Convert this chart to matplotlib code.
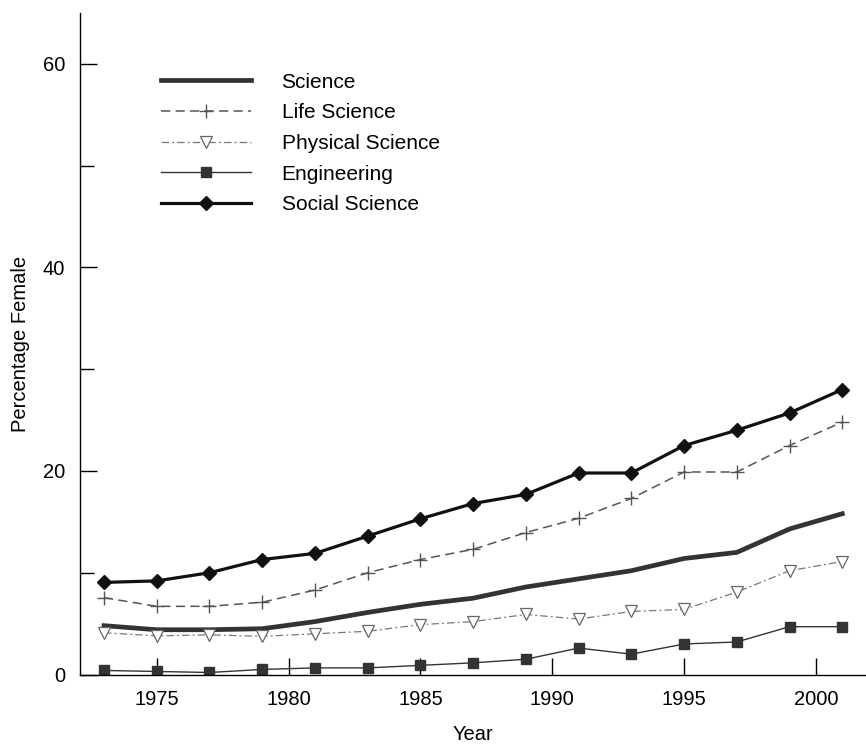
#!/usr/bin/env python3
"""Percentage female by field, 1973-2001."""
import matplotlib
matplotlib.use("Agg")
import matplotlib.pyplot as plt
from matplotlib.ticker import MultipleLocator

plt.rcParams["font.family"] = ["Liberation Sans", "DejaVu Sans"]

years = [1973, 1975, 1977, 1979, 1981, 1983, 1985, 1987,
         1989, 1991, 1993, 1995, 1997, 1999, 2001]
science = [4.8, 4.4, 4.4, 4.5, 5.2, 6.1, 6.9, 7.5,
           8.6, 9.4, 10.2, 11.4, 12.0, 14.3, 15.8]
life_science = [7.55, 6.7, 6.7, 7.1, 8.3, 10.0, 11.3, 12.3,
                13.95, 15.35, 17.3, 19.9, 19.9, 22.5, 24.8]
physical_science = [4.1, 3.8, 3.9, 3.75, 4.0, 4.25, 4.9, 5.2,
                    5.9, 5.45, 6.2, 6.4, 8.1, 10.2, 11.1]
engineering = [0.4, 0.3, 0.2, 0.5, 0.65, 0.65, 0.9, 1.15,
               1.5, 2.6, 2.0, 3.0, 3.2, 4.7, 4.7]
social_science = [9.05, 9.2, 10.0, 11.3, 11.9, 13.6, 15.3, 16.8,
                  17.7, 19.8, 19.8, 22.5, 24.0, 25.7, 28.0]

fig = plt.figure(figsize=(8.66, 7.45), dpi=100)
ax = fig.add_axes([0.0927, 0.0946, 0.9073, 0.888])

ax.plot(years, science, color="#333333", lw=3.4, label="Science")
ax.plot(years, life_science, color="#555555", lw=1.1, ls=(0, (6, 3.5)),
        marker="+", ms=10, mew=1.0, label="Life Science")
ax.plot(years, physical_science, color="#777777", lw=0.9,
        ls=(0, (6, 2.5, 1.5, 2.5)), marker="v", ms=8, mfc="white",
        mec="#666666", mew=0.9, label="Physical Science")
ax.plot(years, engineering, color="#333333", lw=1.0, marker="s", ms=7,
        label="Engineering")
ax.plot(years, social_science, color="#111111", lw=2.3, marker="D", ms=7,
        label="Social Science")

ax.set_xlim(1972.1, 2001.9)
ax.set_ylim(0, 65)
ax.set_xticks([1975, 1980, 1985, 1990, 1995, 2000])
ax.set_yticks([0, 20, 40, 60])
ax.yaxis.set_minor_locator(MultipleLocator(10))
ax.tick_params(axis="both", which="both", direction="in", labelsize=14.5,
               pad=11, width=1.0)
ax.tick_params(axis="both", which="major", length=12)
ax.tick_params(axis="y", which="minor", length=10)

for s in ["top", "right"]:
    ax.spines[s].set_visible(False)
for s in ["left", "bottom"]:
    ax.spines[s].set_linewidth(1.0)

ax.set_xlabel("Year", fontsize=14.5, labelpad=12)
ax.set_ylabel("Percentage Female", fontsize=14.5, labelpad=9)

ax.legend(loc="upper left", bbox_to_anchor=(0.0785, 0.938), frameon=False,
          fontsize=15, handlelength=4.35, handletextpad=1.45, labelspacing=0.56)

fig.savefig("out.png", dpi=100, facecolor="white")
